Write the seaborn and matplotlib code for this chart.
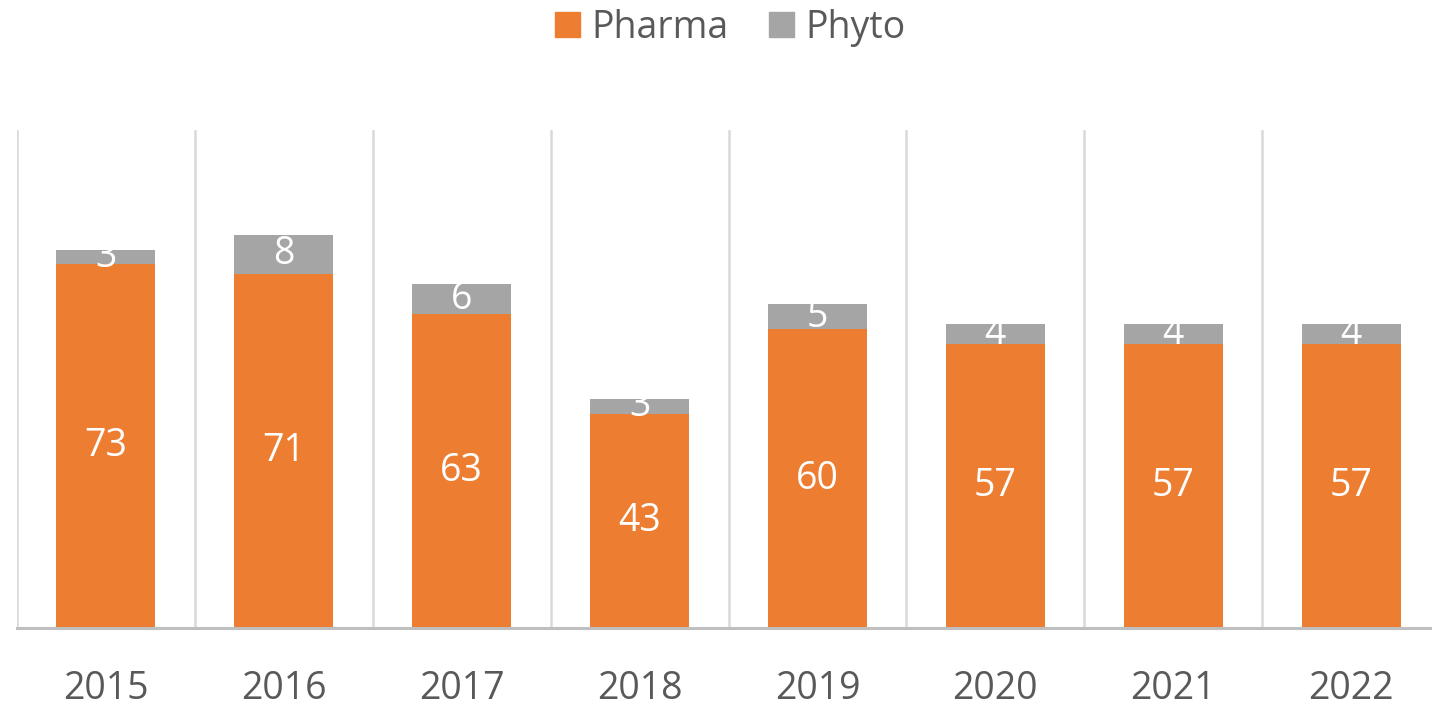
import matplotlib.pyplot as plt
import matplotlib.patches as mpatches
import numpy as np
import pandas as pd
import seaborn as sns

years = ['2015', '2016', '2017', '2018', '2019', '2020', '2021', '2022']
pharma = [73, 71, 63, 43, 60, 57, 57, 57]
phyto = [3, 8, 6, 3, 5, 4, 4, 4]

ORANGE = '#ED7D31'
GREY = '#A5A5A5'
TEXT = '#595959'

if __name__ == '__main__':
    sns.set_style('white')
    plt.rcParams['font.family'] = ['Open Sans', 'DejaVu Sans']

    dframe = pd.DataFrame({'year': years, 'Pharma': pharma, 'Phyto': phyto})
    dframe['total'] = dframe['Pharma'] + dframe['Phyto']

    fig = plt.figure(figsize=(14.32, 7.05), dpi=100)
    ax = fig.add_axes([17 / 1432, 77 / 705, 1423 / 1432, 498 / 705])

    sns.barplot(x='year', y='total', data=dframe, color=GREY, width=0.556,
                saturation=1, linewidth=0, ax=ax)
    sns.barplot(x='year', y='Pharma', data=dframe, color=ORANGE, width=0.556,
                saturation=1, linewidth=0, ax=ax)

    # labels
    ax.bar_label(ax.containers[1], labels=[str(v) for v in pharma],
                 label_type='center', color='white', fontsize=27)
    for i, (p, q) in enumerate(zip(pharma, phyto)):
        ax.text(i, p + q / 2, str(q), ha='center', va='center',
                color='white', fontsize=27)

    ax.set_ylim(0, 100)
    ax.set_xlim(-0.5, len(years) - 0.5)
    ax.set_yticks([])
    ax.set_xlabel('')
    ax.set_ylabel('')

    # vertical separators between categories
    ax.set_xticks(np.arange(-0.5, len(years)), minor=True)
    ax.grid(which='minor', axis='x', color='#D9D9D9', linewidth=1.8)
    ax.tick_params(axis='x', which='both', length=0)
    ax.tick_params(axis='x', which='major', pad=30, labelsize=27,
                   labelcolor=TEXT)
    ax.set_axisbelow(True)

    for s in ['top', 'right', 'left']:
        ax.spines[s].set_visible(False)
    ax.spines['bottom'].set_color('#BFBFBF')
    ax.spines['bottom'].set_linewidth(2.2)

    handles = [mpatches.Patch(color=ORANGE, label='Pharma'),
               mpatches.Patch(color=GREY, label='Phyto')]
    fig.legend(handles=handles, loc='center', bbox_to_anchor=(0.51, 1 - 28 / 705),
               ncol=2, frameon=False, fontsize=27, handlelength=0.65,
               handleheight=0.65, handletextpad=0.3, columnspacing=1.1,
               labelcolor=TEXT)

    fig.savefig('out.png', dpi=100)
